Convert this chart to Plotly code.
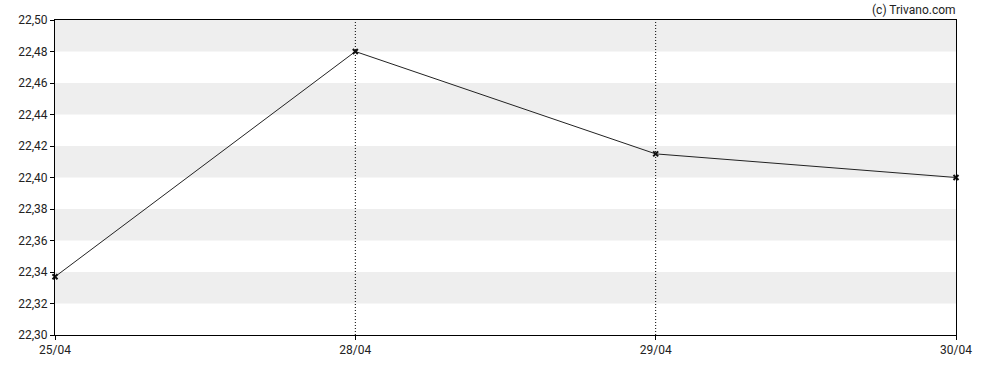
import plotly.graph_objects as go

dates = ["25/04", "28/04", "29/04", "30/04"]
prices = [22.337, 22.48, 22.415, 22.40]
y_ticks = [22.30, 22.32, 22.34, 22.36, 22.38, 22.40, 22.42, 22.44, 22.46, 22.48, 22.50]
band_starts = [22.32, 22.36, 22.40, 22.44, 22.48]
vlines_at = ["28/04", "29/04"]

idx = list(range(len(dates)))

fig = go.Figure()
fig.add_trace(go.Scatter(
    x=idx, y=prices, mode="lines+markers",
    line=dict(color="#222222", width=1),
    marker=dict(symbol="x-thin", size=5, color="#111111", line=dict(width=2, color="#111111")),
    hoverinfo="skip", showlegend=False, cliponaxis=False,
))

shapes = []
for b in band_starts:
    shapes.append(dict(type="rect", xref="paper", yref="y", x0=0, x1=1, y0=b, y1=b + 0.02,
                       fillcolor="#EEEEEE", line=dict(width=0), layer="below"))
for d in vlines_at:
    i = dates.index(d)
    shapes.append(dict(type="line", xref="x", yref="paper", x0=i, x1=i, y0=0, y1=1,
                       line=dict(color="#000000", width=1, dash="1px,2px"), layer="below"))

fig.update_layout(
    width=988, height=370,
    margin=dict(l=55, r=32, t=20, b=35),
    paper_bgcolor="white", plot_bgcolor="white",
    font=dict(family="Roboto", size=12, color="#222222"),
    shapes=shapes,
    xaxis=dict(range=[0, 3], tickmode="array", tickvals=idx, ticktext=dates,
               showgrid=False, zeroline=False, showline=True, linecolor="black", linewidth=1,
               mirror=True, ticks="outside", ticklen=4, tickcolor="black"),
    yaxis=dict(range=[22.30, 22.50], tickmode="array", tickvals=y_ticks,
               ticktext=[f"{v:.2f}".replace(".", ",") for v in y_ticks],
               showgrid=False, zeroline=False, showline=True, linecolor="black", linewidth=1,
               mirror=True, ticks="outside", ticklen=4, tickcolor="black"),
    annotations=[dict(text="(c) Trivano.com", xref="paper", yref="paper", x=1.002, y=1.0,
                      xanchor="right", yanchor="bottom", yshift=1, showarrow=False,
                      font=dict(family="Roboto", size=12, color="#222222"))],
)

fig.write_html("out.html")
